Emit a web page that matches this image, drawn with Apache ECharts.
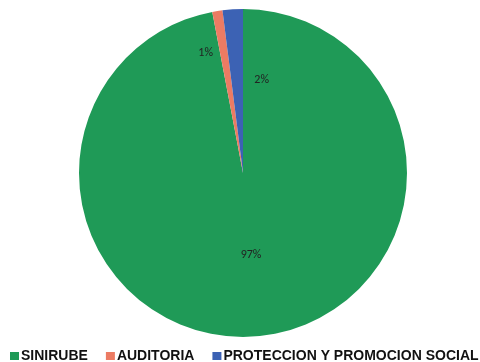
<!DOCTYPE html>
<html>
<head>
<meta charset="utf-8">
<style>
  html, body { margin: 0; padding: 0; background: #fff; }
  #chart { width: 480px; height: 362px; }
</style>
<script src="https://cdn.jsdelivr.net/npm/echarts@6/dist/echarts.min.js"></script>
</head>
<body>
<div id="chart"></div>
<script>
// Share of budget by area (percent)
const categories = ['SINIRUBE', 'AUDITORIA', 'PROTECCION Y PROMOCION SOCIAL'];
const shares = [97, 1, 2];
const sliceColors = ['#1f9a57', '#ec7b63', '#3c62b4'];

// Nudges for the two thin slices' labels, so they sit beside their wedges
const labelNudge = [[0, -3], [-24, -36], [24, -8]];

const chart = echarts.init(document.getElementById('chart'), null, { renderer: 'canvas' });

chart.setOption({
  animation: false,
  backgroundColor: '#ffffff',
  color: sliceColors,
  legend: {
    data: categories,
    left: 10,
    top: 349,
    padding: 0,
    itemWidth: 9,
    itemHeight: 8,
    itemGap: 18,
    icon: 'rect',
    textStyle: {
      fontFamily: '"Liberation Sans", Arial, sans-serif',
      fontWeight: 'bold',
      fontSize: 14,
      color: '#111',
      padding: [0, 0, 0, -3]
    }
  },
  series: [{
    type: 'pie',
    center: [243, 173],
    radius: 164,
    startAngle: 90,
    clockwise: true,
    avoidLabelOverlap: false,
    emphasis: { disabled: true },
    itemStyle: { borderWidth: 0 },
    label: {
      show: true,
      position: 'inside',
      formatter: '{c}%',
      color: '#222',
      fontFamily: 'Carlito, "Liberation Sans", Arial, sans-serif',
      fontSize: 12
    },
    labelLine: { show: false },
    labelLayout: function (params) {
      const n = labelNudge[params.dataIndex];
      return { dx: n[0], dy: n[1] };
    },
    data: categories.map(function (name, i) {
      return { name: name, value: shares[i] };
    })
  }]
});
</script>
</body>
</html>
